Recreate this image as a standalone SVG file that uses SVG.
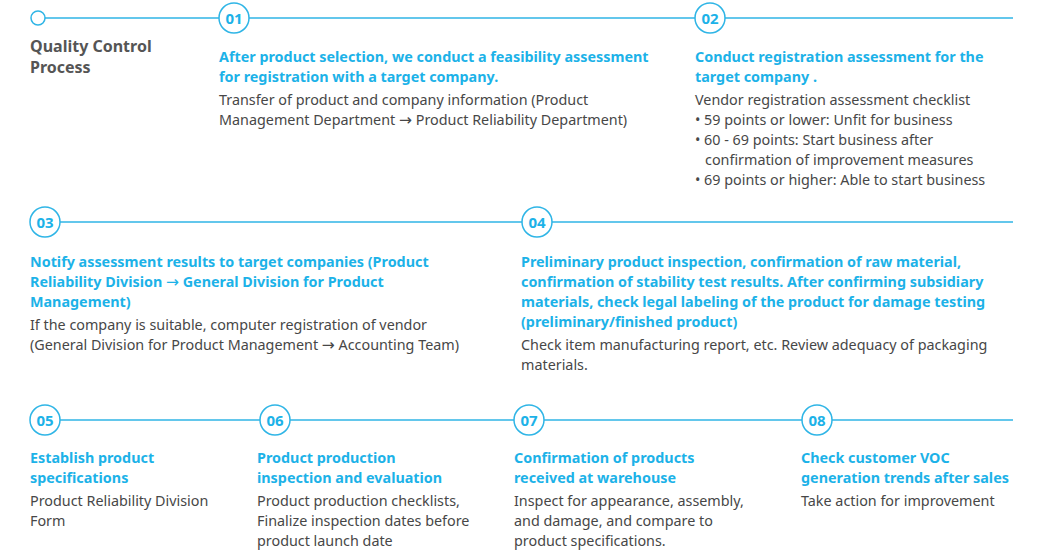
<svg xmlns="http://www.w3.org/2000/svg" width="1052" height="551" viewBox="0 0 1052 551">
<style>
text{font-family:"Noto Sans","Open Sans","Liberation Sans",sans-serif;}
.t{font-size:14.35px;font-weight:bold;fill:#1cb2e8;}
.b{font-size:14.35px;fill:#474747;}
.h{font-size:16px;font-weight:bold;fill:#555;}
.n{font-size:15px;font-weight:bold;fill:#1cb2e8;text-anchor:middle;}
.a{font-family:"DejaVu Sans",sans-serif;font-weight:normal;font-size:15.5px;}
.ln{stroke:#2fb5e6;stroke-width:1.5;fill:none;}
.c{fill:#fff;stroke:#2fb5e6;stroke-width:1.5;}
</style>
<g id="connectors">
<line class="ln" x1="45" y1="18" x2="1013" y2="18"/>
<line class="ln" x1="60" y1="222" x2="1013" y2="222"/>
<line class="ln" x1="60" y1="420" x2="1013" y2="420"/>
</g>
<g id="start"><circle class="c" cx="38" cy="18" r="7"/>
<text class="h" x="30" y="52">Quality Control</text><text class="h" x="30" y="73">Process</text></g>
<g id="step01"><circle class="c" cx="234" cy="18" r="15"/><text class="n" x="234" y="23.5">01</text>
<text class="t" x="219" y="62">After product selection, we conduct a feasibility assessment</text>
<text class="t" x="219" y="82">for registration with a target company.</text>
<text class="b" x="219" y="105">Transfer of product and company information (Product</text>
<text class="b" x="219" y="125">Management Department <tspan class="a">→</tspan> Product Reliability Department)</text></g>
<g id="step02"><circle class="c" cx="710" cy="18" r="15"/><text class="n" x="710" y="23.5">02</text>
<text class="t" x="695" y="62">Conduct registration assessment for the</text>
<text class="t" x="695" y="82">target company .</text>
<text class="b" x="695" y="105">Vendor registration assessment checklist</text>
<text class="b" x="695" y="125">• 59 points or lower: Unfit for business</text>
<text class="b" x="695" y="145">• 60 - 69 points: Start business after</text>
<text class="b" x="705" y="165">confirmation of improvement measures</text>
<text class="b" x="695" y="185">• 69 points or higher: Able to start business</text></g>
<g id="step03"><circle class="c" cx="45" cy="222" r="15"/><text class="n" x="45" y="227.5">03</text>
<text class="t" x="30" y="267">Notify assessment results to target companies (Product</text>
<text class="t" x="30" y="287">Reliability Division <tspan class="a">→</tspan> General Division for Product</text>
<text class="t" x="30" y="307">Management)</text>
<text class="b" x="30" y="330">If the company is suitable, computer registration of vendor</text>
<text class="b" x="30" y="350">(General Division for Product Management <tspan class="a">→</tspan> Accounting Team)</text></g>
<g id="step04"><circle class="c" cx="537" cy="222" r="15"/><text class="n" x="537" y="227.5">04</text>
<text class="t" x="521" y="267">Preliminary product inspection, confirmation of raw material,</text>
<text class="t" x="521" y="287">confirmation of stability test results. After confirming subsidiary</text>
<text class="t" x="521" y="307">materials, check legal labeling of the product for damage testing</text>
<text class="t" x="521" y="327">(preliminary/finished product)</text>
<text class="b" x="521" y="350">Check item manufacturing report, etc. Review adequacy of packaging</text>
<text class="b" x="521" y="370">materials.</text></g>
<g id="step05"><circle class="c" cx="45" cy="420" r="15"/><text class="n" x="45" y="425.5">05</text>
<text class="t" x="30" y="463">Establish product</text>
<text class="t" x="30" y="483">specifications</text>
<text class="b" x="30" y="506">Product Reliability Division</text>
<text class="b" x="30" y="526">Form</text></g>
<g id="step06"><circle class="c" cx="275" cy="420" r="15"/><text class="n" x="275" y="425.5">06</text>
<text class="t" x="257" y="463">Product production</text>
<text class="t" x="257" y="483">inspection and evaluation</text>
<text class="b" x="257" y="506">Product production checklists,</text>
<text class="b" x="257" y="526">Finalize inspection dates before</text>
<text class="b" x="257" y="546">product launch date</text></g>
<g id="step07"><circle class="c" cx="529" cy="420" r="15"/><text class="n" x="529" y="425.5">07</text>
<text class="t" x="514" y="463">Confirmation of products</text>
<text class="t" x="514" y="483">received at warehouse</text>
<text class="b" x="514" y="506">Inspect for appearance, assembly,</text>
<text class="b" x="514" y="526">and damage, and compare to</text>
<text class="b" x="514" y="546">product specifications.</text></g>
<g id="step08"><circle class="c" cx="817" cy="420" r="15"/><text class="n" x="817" y="425.5">08</text>
<text class="t" x="801" y="463">Check customer VOC</text>
<text class="t" x="801" y="483">generation trends after sales</text>
<text class="b" x="801" y="506">Take action for improvement</text></g>
</svg>
